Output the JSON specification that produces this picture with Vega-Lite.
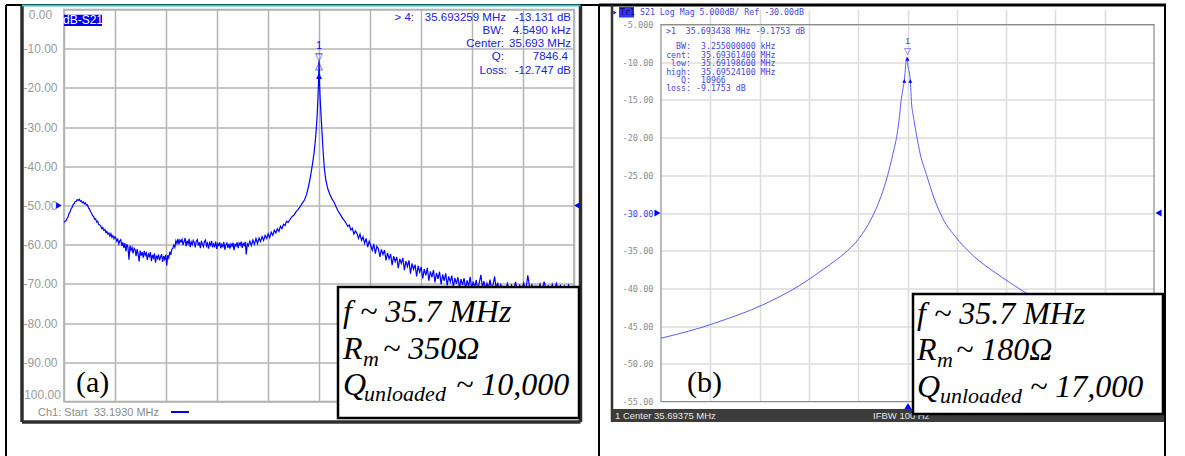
{
"$schema": "https://vega.github.io/schema/vega-lite/v6.json",
"background": "white",
"padding": {"left": 4, "top": 1.5, "right": 0, "bottom": 0},
"bounds": "flush",
"spacing": 87,
"config": {"font": "Liberation Sans"},
"hconcat": [
{
 "width": 510, "height": 392,
 "view": {"stroke": "#a8a8a8", "strokeWidth": 1.5},
 "encoding": {
  "x": {"field": "x", "type": "quantitative", "scale": {"domain": [33.193, 38.193], "nice": false, "zero": false},
   "axis": {"values": [33.193, 33.693, 34.193, 34.693, 35.193, 35.693, 36.193, 36.693, 37.193, 37.693, 38.193], "grid": true, "gridColor": "#b4b4b4", "gridWidth": 1.5, "labels": false, "ticks": false, "domain": false, "title": null}},
  "y": {"field": "y", "type": "quantitative", "scale": {"domain": [-100, 0], "nice": false, "zero": false},
   "axis": {"values": [0, -10, -20, -30, -40, -50, -60, -70, -80, -90, -100], "grid": true, "gridColor": "#b4b4b4", "gridWidth": 1.5, "ticks": false, "tickSize": 0, "domain": false, "title": null, "labelFont": "Liberation Sans", "labelFontSize": 12, "labelColor": "#9a9a9a", "labelAlign": "center", "labelPadding": 24, "labelFlush": true, "labelExpr": "datum.value == 0 ? '0.00' : '-' + format(abs(datum.value), '.2f')"}}
 },
 "layer": [
  {"data": {"values": [
    {"x": 32.7812, "x2": 32.7812, "y": 1.148, "y2": -105.23},
    {"x": 38.2567, "x2": 38.2567, "y": 1.148, "y2": -105.23},
    {"x": 32.7812, "x2": 38.2567, "y": -105.23, "y2": -105.23}
   ]},
   "mark": {"type": "rule", "color": "#2e2e2e", "strokeWidth": 3.5},
   "encoding": {"x2": {"field": "x2"}, "y2": {"field": "y2"}}},
  {"data": {"values": [
    {"x": 32.6244, "x2": 32.6244, "y": 1.148, "y2": -120},
    {"x": 32.6244, "x2": 38.4381, "y": 1.148, "y2": 1.148}
   ]},
   "mark": {"type": "rule", "color": "#000000", "strokeWidth": 2},
   "encoding": {"x2": {"field": "x2"}, "y2": {"field": "y2"}}},
  {"data": {"values": [
    {"x": 32.7812, "x2": 38.2567, "y": 1.02, "y2": 1.02}
   ]},
   "mark": {"type": "rule", "color": "#2ec4c4", "strokeWidth": 2},
   "encoding": {"x2": {"field": "x2"}, "y2": {"field": "y2"}}},
  {"data": {"values": [
    {"x": 33.193, "y": -54.3}, {"x": 33.203, "y": -54.0}, {"x": 33.213, "y": -53.9}, {"x": 33.223, "y": -53.3}, {"x": 33.233, "y": -52.9},
    {"x": 33.243, "y": -52.0}, {"x": 33.253, "y": -51.6}, {"x": 33.263, "y": -50.8}, {"x": 33.273, "y": -50.5}, {"x": 33.283, "y": -49.7},
    {"x": 33.293, "y": -49.5}, {"x": 33.303, "y": -49.0}, {"x": 33.313, "y": -48.9}, {"x": 33.323, "y": -48.5}, {"x": 33.333, "y": -48.7},
    {"x": 33.343, "y": -48.4}, {"x": 33.353, "y": -48.9}, {"x": 33.363, "y": -48.8}, {"x": 33.373, "y": -49.3}, {"x": 33.383, "y": -49.1},
    {"x": 33.393, "y": -49.6}, {"x": 33.403, "y": -49.3}, {"x": 33.413, "y": -49.9}, {"x": 33.423, "y": -49.8}, {"x": 33.433, "y": -50.6},
    {"x": 33.443, "y": -50.9}, {"x": 33.453, "y": -51.6}, {"x": 33.463, "y": -51.9}, {"x": 33.473, "y": -52.6}, {"x": 33.483, "y": -52.8},
    {"x": 33.493, "y": -53.5}, {"x": 33.503, "y": -53.4}, {"x": 33.513, "y": -54.2}, {"x": 33.523, "y": -54.0}, {"x": 33.533, "y": -54.8},
    {"x": 33.543, "y": -55.0}, {"x": 33.553, "y": -55.2}, {"x": 33.563, "y": -55.9}, {"x": 33.573, "y": -55.6}, {"x": 33.583, "y": -56.3},
    {"x": 33.593, "y": -56.1}, {"x": 33.603, "y": -56.9}, {"x": 33.613, "y": -56.6}, {"x": 33.623, "y": -57.3}, {"x": 33.633, "y": -57.0},
    {"x": 33.643, "y": -57.8}, {"x": 33.653, "y": -57.2}, {"x": 33.663, "y": -58.1}, {"x": 33.673, "y": -57.7}, {"x": 33.683, "y": -58.5},
    {"x": 33.693, "y": -58.0},
    {"x": 33.70, "y": -58.2}, {"x": 33.71, "y": -59.1}, {"x": 33.72, "y": -58.6}, {"x": 33.73, "y": -59.8}, {"x": 33.74, "y": -59.0},
    {"x": 33.75, "y": -58.7}, {"x": 33.76, "y": -60.3}, {"x": 33.77, "y": -59.4}, {"x": 33.78, "y": -60.8}, {"x": 33.79, "y": -59.6},
    {"x": 33.80, "y": -61.7}, {"x": 33.81, "y": -59.9}, {"x": 33.82, "y": -60.6}, {"x": 33.83, "y": -63.8}, {"x": 33.84, "y": -60.2},
    {"x": 33.85, "y": -61.4}, {"x": 33.86, "y": -60.7}, {"x": 33.87, "y": -62.2}, {"x": 33.88, "y": -60.9}, {"x": 33.89, "y": -61.3},
    {"x": 33.90, "y": -62.9}, {"x": 33.91, "y": -61.1}, {"x": 33.92, "y": -62.4}, {"x": 33.93, "y": -64.3}, {"x": 33.94, "y": -61.5},
    {"x": 33.95, "y": -62.8}, {"x": 33.96, "y": -61.9}, {"x": 33.97, "y": -63.3}, {"x": 33.98, "y": -61.6}, {"x": 33.99, "y": -62.7},
    {"x": 34.00, "y": -62.1}, {"x": 34.01, "y": -63.9}, {"x": 34.02, "y": -62.4}, {"x": 34.03, "y": -63.0}, {"x": 34.04, "y": -61.9},
    {"x": 34.05, "y": -64.2}, {"x": 34.06, "y": -62.6}, {"x": 34.07, "y": -63.4}, {"x": 34.08, "y": -62.2}, {"x": 34.09, "y": -64.6},
    {"x": 34.10, "y": -62.8}, {"x": 34.11, "y": -63.5}, {"x": 34.12, "y": -62.5}, {"x": 34.13, "y": -64.0}, {"x": 34.14, "y": -63.1},
    {"x": 34.15, "y": -62.4}, {"x": 34.16, "y": -64.4}, {"x": 34.17, "y": -62.9}, {"x": 34.18, "y": -63.7}, {"x": 34.19, "y": -62.6},
    {"x": 34.20, "y": -65.3}, {"x": 34.21, "y": -62.7}, {"x": 34.22, "y": -63.4}, {"x": 34.23, "y": -61.8}, {"x": 34.24, "y": -62.6},
    {"x": 34.25, "y": -61.2}, {"x": 34.26, "y": -60.9}, {"x": 34.27, "y": -60.1}, {"x": 34.28, "y": -60.7}, {"x": 34.29, "y": -59.0},
    {"x": 34.30, "y": -59.7}, {"x": 34.31, "y": -58.5}, {"x": 34.32, "y": -59.9}, {"x": 34.33, "y": -58.8}, {"x": 34.34, "y": -59.3},
    {"x": 34.35, "y": -58.6}, {"x": 34.36, "y": -60.1}, {"x": 34.37, "y": -59.2}, {"x": 34.38, "y": -58.3}, {"x": 34.39, "y": -60.4},
    {"x": 34.40, "y": -59.0}, {"x": 34.41, "y": -59.8}, {"x": 34.42, "y": -58.5}, {"x": 34.43, "y": -60.6}, {"x": 34.44, "y": -59.3},
    {"x": 34.45, "y": -60.0}, {"x": 34.46, "y": -58.9}, {"x": 34.47, "y": -59.5}, {"x": 34.48, "y": -60.7}, {"x": 34.49, "y": -59.1},
    {"x": 34.50, "y": -58.7}, {"x": 34.51, "y": -60.2}, {"x": 34.52, "y": -59.4}, {"x": 34.53, "y": -60.9}, {"x": 34.54, "y": -59.0},
    {"x": 34.55, "y": -59.9}, {"x": 34.56, "y": -60.5}, {"x": 34.57, "y": -59.2}, {"x": 34.58, "y": -58.8}, {"x": 34.59, "y": -60.3},
    {"x": 34.60, "y": -59.6}, {"x": 34.61, "y": -61.0}, {"x": 34.62, "y": -59.5}, {"x": 34.63, "y": -60.1}, {"x": 34.64, "y": -59.0},
    {"x": 34.65, "y": -60.7}, {"x": 34.66, "y": -59.8}, {"x": 34.67, "y": -60.4}, {"x": 34.68, "y": -59.2}, {"x": 34.69, "y": -61.1},
    {"x": 34.70, "y": -59.7}, {"x": 34.71, "y": -60.2}, {"x": 34.72, "y": -59.4}, {"x": 34.73, "y": -60.9}, {"x": 34.74, "y": -59.9},
    {"x": 34.75, "y": -60.5}, {"x": 34.76, "y": -59.3}, {"x": 34.77, "y": -61.3}, {"x": 34.78, "y": -60.0}, {"x": 34.79, "y": -59.6},
    {"x": 34.80, "y": -60.8}, {"x": 34.81, "y": -59.7}, {"x": 34.82, "y": -61.0}, {"x": 34.83, "y": -59.8}, {"x": 34.84, "y": -60.4},
    {"x": 34.85, "y": -59.5}, {"x": 34.86, "y": -61.4}, {"x": 34.87, "y": -59.9}, {"x": 34.88, "y": -60.3}, {"x": 34.89, "y": -59.4},
    {"x": 34.90, "y": -60.9}, {"x": 34.91, "y": -59.6}, {"x": 34.92, "y": -60.1}, {"x": 34.93, "y": -59.2}, {"x": 34.94, "y": -60.8},
    {"x": 34.95, "y": -59.7}, {"x": 34.96, "y": -60.2}, {"x": 34.97, "y": -59.3}, {"x": 34.98, "y": -62.5}, {"x": 34.99, "y": -59.8},
    {"x": 35.00, "y": -60.3},
    {"x": 35.015, "y": -59.1}, {"x": 35.03, "y": -60.2}, {"x": 35.045, "y": -58.8}, {"x": 35.06, "y": -59.9}, {"x": 35.075, "y": -58.4},
    {"x": 35.09, "y": -59.7}, {"x": 35.105, "y": -58.3}, {"x": 35.12, "y": -59.2}, {"x": 35.135, "y": -57.9}, {"x": 35.15, "y": -58.9},
    {"x": 35.165, "y": -57.6}, {"x": 35.18, "y": -58.4}, {"x": 35.195, "y": -57.2}, {"x": 35.21, "y": -58.2}, {"x": 35.225, "y": -56.8},
    {"x": 35.24, "y": -57.6}, {"x": 35.255, "y": -56.3}, {"x": 35.27, "y": -57.0}, {"x": 35.285, "y": -55.9}, {"x": 35.30, "y": -56.6},
    {"x": 35.315, "y": -55.3}, {"x": 35.33, "y": -55.9}, {"x": 35.345, "y": -54.8}, {"x": 35.36, "y": -55.1}, {"x": 35.375, "y": -54.0},
    {"x": 35.39, "y": -54.3}, {"x": 35.41, "y": -53.5}, {"x": 35.43, "y": -52.8}, {"x": 35.45, "y": -52.4}, {"x": 35.47, "y": -51.5},
    {"x": 35.49, "y": -51.0}, {"x": 35.51, "y": -50.2}, {"x": 35.53, "y": -49.4}, {"x": 35.55, "y": -48.6}, {"x": 35.57, "y": -47.3},
    {"x": 35.59, "y": -45.2}, {"x": 35.61, "y": -42.5}, {"x": 35.63, "y": -39.3}, {"x": 35.645, "y": -36.5}, {"x": 35.655, "y": -34.0},
    {"x": 35.665, "y": -31.0}, {"x": 35.675, "y": -27.0}, {"x": 35.683, "y": -22.5}, {"x": 35.689, "y": -18.0}, {"x": 35.692, "y": -15.0},
    {"x": 35.6933, "y": -13.1}, {"x": 35.695, "y": -15.0}, {"x": 35.698, "y": -18.5}, {"x": 35.704, "y": -22.5}, {"x": 35.712, "y": -26.5},
    {"x": 35.722, "y": -31.0}, {"x": 35.733, "y": -36.0}, {"x": 35.745, "y": -40.5}, {"x": 35.76, "y": -43.5}, {"x": 35.78, "y": -45.8},
    {"x": 35.80, "y": -47.2}, {"x": 35.82, "y": -48.3}, {"x": 35.84, "y": -49.1}, {"x": 35.86, "y": -50.3}, {"x": 35.88, "y": -51.4},
    {"x": 35.90, "y": -52.2}, {"x": 35.92, "y": -53.1}, {"x": 35.94, "y": -53.8},
    {"x": 35.96, "y": -54.6}, {"x": 35.975, "y": -55.3}, {"x": 35.99, "y": -55.0}, {"x": 36.005, "y": -56.2}, {"x": 36.02, "y": -55.8},
    {"x": 36.035, "y": -57.3}, {"x": 36.05, "y": -56.5}, {"x": 36.065, "y": -57.1}, {"x": 36.08, "y": -58.4}, {"x": 36.095, "y": -57.3},
    {"x": 36.11, "y": -58.9}, {"x": 36.125, "y": -58.0}, {"x": 36.14, "y": -59.7}, {"x": 36.155, "y": -58.4}, {"x": 36.17, "y": -60.6},
    {"x": 36.185, "y": -59.1}, {"x": 36.20, "y": -60.2}, {"x": 36.215, "y": -61.4}, {"x": 36.23, "y": -59.8}, {"x": 36.245, "y": -62.3},
    {"x": 36.26, "y": -60.4}, {"x": 36.275, "y": -61.0}, {"x": 36.29, "y": -63.1}, {"x": 36.305, "y": -61.2}, {"x": 36.32, "y": -62.5},
    {"x": 36.335, "y": -61.4}, {"x": 36.35, "y": -64.0}, {"x": 36.365, "y": -62.1}, {"x": 36.38, "y": -63.6}, {"x": 36.395, "y": -62.4},
    {"x": 36.41, "y": -65.2}, {"x": 36.425, "y": -62.9}, {"x": 36.44, "y": -64.3}, {"x": 36.455, "y": -63.1}, {"x": 36.47, "y": -66.0},
    {"x": 36.485, "y": -63.6}, {"x": 36.50, "y": -64.8}, {"x": 36.515, "y": -63.4}, {"x": 36.53, "y": -66.5}, {"x": 36.545, "y": -64.2},
    {"x": 36.56, "y": -65.6}, {"x": 36.575, "y": -64.0}, {"x": 36.59, "y": -67.4}, {"x": 36.605, "y": -64.8}, {"x": 36.62, "y": -66.3},
    {"x": 36.635, "y": -65.1}, {"x": 36.65, "y": -68.1}, {"x": 36.665, "y": -65.4}, {"x": 36.68, "y": -67.0}, {"x": 36.695, "y": -65.7},
    {"x": 36.71, "y": -68.6}, {"x": 36.725, "y": -66.2}, {"x": 36.74, "y": -67.8}, {"x": 36.755, "y": -65.9}, {"x": 36.77, "y": -69.2},
    {"x": 36.785, "y": -66.8}, {"x": 36.80, "y": -68.3}, {"x": 36.815, "y": -66.5}, {"x": 36.83, "y": -69.6}, {"x": 36.845, "y": -67.2},
    {"x": 36.86, "y": -68.7}, {"x": 36.875, "y": -66.9}, {"x": 36.89, "y": -70.1}, {"x": 36.905, "y": -67.6}, {"x": 36.92, "y": -69.2},
    {"x": 36.935, "y": -67.3}, {"x": 36.95, "y": -70.4}, {"x": 36.965, "y": -68.1}, {"x": 36.98, "y": -69.5}, {"x": 36.995, "y": -67.9},
    {"x": 37.01, "y": -70.7}, {"x": 37.025, "y": -68.5}, {"x": 37.04, "y": -70.0}, {"x": 37.055, "y": -68.3}, {"x": 37.07, "y": -71.0},
    {"x": 37.085, "y": -68.8}, {"x": 37.10, "y": -70.3}, {"x": 37.115, "y": -68.5}, {"x": 37.13, "y": -71.2}, {"x": 37.145, "y": -69.1},
    {"x": 37.16, "y": -70.6}, {"x": 37.175, "y": -68.2}, {"x": 37.19, "y": -71.3}, {"x": 37.205, "y": -69.4}, {"x": 37.22, "y": -70.8},
    {"x": 37.235, "y": -69.0}, {"x": 37.25, "y": -71.5}, {"x": 37.265, "y": -69.6}, {"x": 37.28, "y": -67.7}, {"x": 37.295, "y": -70.9},
    {"x": 37.31, "y": -69.3}, {"x": 37.325, "y": -71.4}, {"x": 37.34, "y": -69.8}, {"x": 37.355, "y": -71.0}, {"x": 37.37, "y": -68.9},
    {"x": 37.385, "y": -71.6}, {"x": 37.40, "y": -70.1}, {"x": 37.415, "y": -68.1}, {"x": 37.43, "y": -71.3}, {"x": 37.445, "y": -69.7},
    {"x": 37.46, "y": -71.7}, {"x": 37.475, "y": -70.2}, {"x": 37.49, "y": -71.1},
    {"x": 37.52, "y": -71.8}, {"x": 37.54, "y": -69.9}, {"x": 37.56, "y": -72.0}, {"x": 37.58, "y": -70.3}, {"x": 37.60, "y": -71.6},
    {"x": 37.62, "y": -69.5}, {"x": 37.64, "y": -72.2}, {"x": 37.66, "y": -70.4}, {"x": 37.68, "y": -71.5}, {"x": 37.70, "y": -69.8},
    {"x": 37.72, "y": -71.9}, {"x": 37.74, "y": -67.8}, {"x": 37.76, "y": -71.3}, {"x": 37.78, "y": -70.2}, {"x": 37.80, "y": -72.0},
    {"x": 37.82, "y": -70.6}, {"x": 37.84, "y": -71.7}, {"x": 37.86, "y": -70.0}, {"x": 37.88, "y": -72.1}, {"x": 37.90, "y": -69.4},
    {"x": 37.92, "y": -71.4}, {"x": 37.94, "y": -70.5}, {"x": 37.96, "y": -72.3}, {"x": 37.98, "y": -70.1}, {"x": 38.00, "y": -71.8},
    {"x": 38.02, "y": -69.9}, {"x": 38.04, "y": -71.6}, {"x": 38.06, "y": -70.4}, {"x": 38.08, "y": -71.9}, {"x": 38.10, "y": -70.6},
    {"x": 38.12, "y": -72.0}, {"x": 38.14, "y": -70.3}, {"x": 38.16, "y": -71.7}, {"x": 38.18, "y": -70.8}, {"x": 38.193, "y": -71.2}
   ]},
   "mark": {"type": "line", "color": "#0000ff", "strokeWidth": 1.2}},
  {"data": {"values": [
    {"x": 35.6933, "y": -9.4, "t": "1"},
    {"x": 35.6933, "y": -12.1, "t": "▽"},
    {"x": 35.6933, "y": -14.3, "t": "△"},
    {"x": 35.6933, "y": -17.0, "t": "▲"}
   ]},
   "mark": {"type": "text", "color": "#0000ff", "fontSize": 10, "align": "center", "baseline": "middle"},
   "encoding": {"text": {"field": "t"}}},
  {"data": {"values": [{"x": 33.144, "y": -50}]},
   "mark": {"type": "point", "shape": "triangle-right", "filled": true, "color": "#0000ff", "size": 45, "opacity": 1}},
  {"data": {"values": [{"x": 38.2224, "y": -50}]},
   "mark": {"type": "point", "shape": "triangle-left", "filled": true, "color": "#0000ff", "size": 45, "opacity": 1}},
  {"data": {"values": [
    {"x": 36.6243, "y": -2.09, "t": "> 4:"},
    {"x": 37.5263, "y": -2.09, "t": "35.693259 MHz"},
    {"x": 38.1636, "y": -2.09, "t": "-13.131 dB"},
    {"x": 37.5067, "y": -5.56, "t": "BW:"},
    {"x": 38.1636, "y": -5.56, "t": "4.5490 kHz"},
    {"x": 37.5067, "y": -8.88, "t": "Center:"},
    {"x": 38.1636, "y": -8.88, "t": "35.693 MHz"},
    {"x": 37.5067, "y": -12.12, "t": "Q:"},
    {"x": 38.1342, "y": -12.12, "t": "7846.4"},
    {"x": 37.5361, "y": -15.69, "t": "Loss:"},
    {"x": 38.1636, "y": -15.69, "t": "-12.747 dB"}
   ]},
   "mark": {"type": "text", "color": "#2020e0", "fontSize": 11.5, "align": "right", "baseline": "middle", "font": "Liberation Sans"},
   "encoding": {"text": {"field": "t"}}},
  {"data": {"values": [{"x": 33.193, "x2": 33.5655, "y": -1.33, "y2": -4.21}]},
   "mark": {"type": "rect", "color": "#0000ee"},
   "encoding": {"x2": {"field": "x2"}, "y2": {"field": "y2"}}},
  {"data": {"values": [{"x": 33.3793, "y": -2.76, "t": "dB-S21"}]},
   "mark": {"type": "text", "color": "#ffffff", "fontSize": 12, "align": "center", "baseline": "middle"},
   "encoding": {"text": {"field": "t"}}},
  {"data": {"values": [{"x": 32.9381, "y": -102.93, "t": "Ch1: Start\u00a0\u00a033.1930 MHz"}]},
   "mark": {"type": "text", "color": "#8c8c8c", "fontSize": 11, "align": "left", "baseline": "middle"},
   "encoding": {"text": {"field": "t"}}},
  {"data": {"values": [{"x": 34.242, "x2": 34.4185, "y": -102.68, "y2": -102.68}]},
   "mark": {"type": "rule", "color": "#0000ff", "strokeWidth": 2},
   "encoding": {"x2": {"field": "x2"}, "y2": {"field": "y2"}}},
  {"data": {"values": [{"x": 33.3106, "y": -97.58, "t": "(a)"}]},
   "mark": {"type": "text", "color": "#000000", "font": "Liberation Serif", "fontSize": 30, "align": "left", "baseline": "alphabetic"},
   "encoding": {"text": {"field": "t"}}},
  {"data": {"values": [{"x": 35.8793, "x2": 38.242, "y": -70.79, "y2": -104.21}]},
   "mark": {"type": "rect", "fill": "#ffffff", "stroke": "#000000", "strokeWidth": 2.5},
   "encoding": {"x2": {"field": "x2"}, "y2": {"field": "y2"}}},
  {"data": {"values": [
    {"x": 35.9283, "y": -79.72, "t": "f ~ 35.7 MHz"},
    {"x": 35.9283, "y": -89.16, "t": "R"},
    {"x": 36.3205, "y": -89.16, "t": "~ 350Ω"},
    {"x": 35.9283, "y": -98.34, "t": "Q"},
    {"x": 37.0362, "y": -98.34, "t": "~ 10,000"}
   ]},
   "mark": {"type": "text", "color": "#000000", "font": "Liberation Serif", "fontStyle": "italic", "fontSize": 32, "align": "left", "baseline": "alphabetic"},
   "encoding": {"text": {"field": "t"}}},
  {"data": {"values": [
    {"x": 36.1244, "y": -90.94, "t": "m"},
    {"x": 36.1342, "y": -99.87, "t": "unloaded"}
   ]},
   "mark": {"type": "text", "color": "#000000", "font": "Liberation Serif", "fontStyle": "italic", "fontSize": 22, "align": "left", "baseline": "alphabetic"},
   "encoding": {"text": {"field": "t"}}}
 ]
},
{
 "width": 493, "height": 392,
 "view": {"stroke": null},
 "encoding": {
  "x": {"field": "x", "type": "quantitative", "scale": {"domain": [35.59375, 35.79375], "nice": false, "zero": false},
   "axis": {"values": [35.61375, 35.63375, 35.65375, 35.67375, 35.69375, 35.71375, 35.73375, 35.75375, 35.77375], "grid": true, "gridColor": "#dcdcdc", "gridWidth": 1.5, "labels": false, "ticks": false, "domain": false, "title": null}},
  "y": {"field": "y", "type": "quantitative", "scale": {"domain": [-55, -3], "nice": false, "zero": false},
   "axis": {"values": [-5, -10, -15, -20, -25, -30, -35, -40, -45, -50, -55], "grid": true, "gridColor": "#dcdcdc", "gridWidth": 1.5, "ticks": false, "tickSize": 0, "domain": false, "title": null, "labelFont": "DejaVu Sans Mono", "labelFontSize": 8.6, "labelColor": {"condition": {"test": "datum.value == -30", "value": "#3c3cff"}, "value": "#8c8c8c"}, "labelAlign": "right", "labelPadding": 8, "labelFlush": false, "labelExpr": "datum.value == -5 ? '-5.000' : '-' + format(abs(datum.value), '.2f')"}}
 },
 "layer": [
  {"data": {"values": [
    {"x": 35.568598, "x2": 35.568598, "y": -2.403, "y2": -70},
    {"x": 35.798212, "x2": 35.798212, "y": -2.403, "y2": -70}
   ]},
   "mark": {"type": "rule", "color": "#000000", "strokeWidth": 2},
   "encoding": {"x2": {"field": "x2"}, "y2": {"field": "y2"}}},
  {"data": {"values": [
    {"x": 35.568598, "x2": 35.798618, "y": -2.403, "y2": -2.403}
   ]},
   "mark": {"type": "rule", "color": "#000000", "strokeWidth": 3},
   "encoding": {"x2": {"field": "x2"}, "y2": {"field": "y2"}}},
  {"data": {"values": [
    {"x": 35.573872, "x2": 35.573872, "y": -2.403, "y2": -57.72}
   ]},
   "mark": {"type": "rule", "color": "#333333", "strokeWidth": 2.5},
   "encoding": {"x2": {"field": "x2"}, "y2": {"field": "y2"}}},
  {"data": {"values": [{"x": 35.573872, "x2": 35.797807, "y": -55.99, "y2": -57.72}]},
   "mark": {"type": "rect", "color": "#3c3c3c"},
   "encoding": {"x2": {"field": "x2"}, "y2": {"field": "y2"}}},
  {"data": {"values": [
    {"x": 35.575089, "y": -56.93, "t": "1 Center 35.69375 MHz"},
    {"x": 35.679754, "y": -56.93, "t": "IFBW 100 Hz"}
   ]},
   "mark": {"type": "text", "color": "#e6e6e6", "fontSize": 9.5, "align": "left", "baseline": "middle"},
   "encoding": {"text": {"field": "t"}}},
  {"data": {"values": [{"x": 35.59375, "x2": 35.79375, "y": -5, "y2": -55}]},
   "mark": {"type": "rect", "fill": null, "fillOpacity": 0, "stroke": "#8c8c8c", "strokeWidth": 1.2},
   "encoding": {"x2": {"field": "x2"}, "y2": {"field": "y2"}}},
  {"data": {"values": [
    {"x": 35.59375, "y": -46.6}, {"x": 35.6, "y": -46.1}, {"x": 35.61, "y": -45.2}, {"x": 35.62, "y": -44.1}, {"x": 35.63, "y": -42.9},
    {"x": 35.64, "y": -41.4}, {"x": 35.65, "y": -39.6}, {"x": 35.656, "y": -38.3}, {"x": 35.662, "y": -36.9}, {"x": 35.668, "y": -35.4},
    {"x": 35.674, "y": -33.4}, {"x": 35.679, "y": -30.8}, {"x": 35.683, "y": -27.8}, {"x": 35.6857, "y": -25.0}, {"x": 35.6878, "y": -22.2},
    {"x": 35.6895, "y": -19.6}, {"x": 35.6905, "y": -17.2}, {"x": 35.6911, "y": -15.2}, {"x": 35.6918, "y": -13.7}, {"x": 35.69245, "y": -12.4},
    {"x": 35.693, "y": -10.5}, {"x": 35.6934, "y": -9.3}, {"x": 35.694, "y": -10.6}, {"x": 35.69489, "y": -12.4}, {"x": 35.69535, "y": -15.2},
    {"x": 35.6963, "y": -17.5}, {"x": 35.69738, "y": -19.6}, {"x": 35.699, "y": -22.3}, {"x": 35.70144, "y": -24.9}, {"x": 35.7045, "y": -28.0},
    {"x": 35.70806, "y": -30.7}, {"x": 35.71361, "y": -33.3}, {"x": 35.718, "y": -34.9}, {"x": 35.72307, "y": -36.4}, {"x": 35.728, "y": -37.6},
    {"x": 35.7324, "y": -38.6}, {"x": 35.737, "y": -39.6}, {"x": 35.74182, "y": -40.6}, {"x": 35.75, "y": -41.9}, {"x": 35.76, "y": -43.2},
    {"x": 35.77, "y": -44.3}, {"x": 35.78, "y": -45.3}, {"x": 35.79375, "y": -46.4}
   ]},
   "mark": {"type": "line", "color": "#5a5aff", "strokeWidth": 1, "interpolate": "monotone"}},
  {"data": {"values": [
    {"x": 35.69375, "y": -7.15, "t": "1"},
    {"x": 35.69375, "y": -8.45, "t": "▽"}
   ]},
   "mark": {"type": "text", "color": "#4040ff", "fontSize": 8.5, "align": "center", "baseline": "middle"},
   "encoding": {"text": {"field": "t"}}},
  {"data": {"values": [
    {"x": 35.69375, "y": -9.566},
    {"x": 35.692453, "y": -12.485},
    {"x": 35.694887, "y": -12.485}
   ]},
   "mark": {"type": "point", "shape": "triangle-up", "filled": true, "color": "#0000ff", "size": 16, "opacity": 1}},
  {"data": {"values": [{"x": 35.59233, "y": -30}]},
   "mark": {"type": "point", "shape": "triangle-right", "filled": true, "color": "#0000ff", "size": 50, "opacity": 1}},
  {"data": {"values": [{"x": 35.795576, "y": -30}]},
   "mark": {"type": "point", "shape": "triangle-left", "filled": true, "color": "#0000ff", "size": 50, "opacity": 1}},
  {"data": {"values": [{"x": 35.693953, "y": -55.6}]},
   "mark": {"type": "point", "shape": "triangle-up", "filled": true, "color": "#0000ff", "size": 50, "opacity": 1}},
  {"data": {"values": [{"x": 35.575089, "y": -3.4}]},
   "mark": {"type": "point", "shape": "triangle-right", "filled": true, "color": "#1818a0", "size": 14, "opacity": 1}},
  {"data": {"values": [{"x": 35.576711, "x2": 35.582797, "y": -2.668, "y2": -4.061}]},
   "mark": {"type": "rect", "color": "#3333ff"},
   "encoding": {"x2": {"field": "x2"}, "y2": {"field": "y2"}}},
  {"data": {"values": [{"x": 35.577117, "y": -3.42, "t": "Tr1"}]},
   "mark": {"type": "text", "color": "#101060", "font": "DejaVu Sans Mono", "fontSize": 8.25, "align": "left", "baseline": "middle"},
   "encoding": {"text": {"field": "t"}}},
  {"data": {"values": [
    {"x": 35.585231, "y": -3.42, "t": "S21 Log Mag 5.000dB/ Ref -30.00dB"},
    {"x": 35.595778, "y": -5.985, "t": ">1\u00a0\u00a035.693438\u00a0MHz\u00a0-9.1753\u00a0dB"},
    {"x": 35.609977, "y": -7.974, "t": "3.255000000 kHz"},
    {"x": 35.609977, "y": -9.208, "t": "35.69361400 MHz"},
    {"x": 35.609977, "y": -10.269, "t": "35.69198600 MHz"},
    {"x": 35.609977, "y": -11.384, "t": "35.69524100 MHz"},
    {"x": 35.609977, "y": -12.485, "t": "10966"},
    {"x": 35.607949, "y": -13.586, "t": "-9.1753 dB"}
   ]},
   "mark": {"type": "text", "color": "#4646e6", "font": "DejaVu Sans Mono", "fontSize": 8.25, "align": "left", "baseline": "middle"},
   "encoding": {"text": {"field": "t"}}},
  {"data": {"values": [
    {"x": 35.60592, "y": -7.974, "t": "BW:"},
    {"x": 35.60592, "y": -9.208, "t": "cent:"},
    {"x": 35.60592, "y": -10.269, "t": "low:"},
    {"x": 35.60592, "y": -11.384, "t": "high:"},
    {"x": 35.60592, "y": -12.485, "t": "Q:"},
    {"x": 35.60592, "y": -13.586, "t": "loss:"}
   ]},
   "mark": {"type": "text", "color": "#4646e6", "font": "DejaVu Sans Mono", "fontSize": 8.25, "align": "right", "baseline": "middle"},
   "encoding": {"text": {"field": "t"}}},
  {"data": {"values": [{"x": 35.604298, "y": -53.74, "t": "(b)"}]},
   "mark": {"type": "text", "color": "#000000", "font": "Liberation Serif", "fontSize": 30, "align": "left", "baseline": "alphabetic"},
   "encoding": {"text": {"field": "t"}}},
  {"data": {"values": [{"x": 35.695981, "x2": 35.797401, "y": -40.74, "y2": -56.66}]},
   "mark": {"type": "rect", "fill": "#ffffff", "stroke": "#000000", "strokeWidth": 2.5},
   "encoding": {"x2": {"field": "x2"}, "y2": {"field": "y2"}}},
  {"data": {"values": [
    {"x": 35.697604, "y": -44.72, "t": "f ~ 35.7 MHz"},
    {"x": 35.697604, "y": -49.5, "t": "R"},
    {"x": 35.713426, "y": -49.5, "t": "~ 180Ω"},
    {"x": 35.697604, "y": -54.4, "t": "Q"},
    {"x": 35.743446, "y": -54.4, "t": "~ 17,000"}
   ]},
   "mark": {"type": "text", "color": "#000000", "font": "Liberation Serif", "fontStyle": "italic", "fontSize": 32, "align": "left", "baseline": "alphabetic"},
   "encoding": {"text": {"field": "t"}}},
  {"data": {"values": [
    {"x": 35.705718, "y": -50.42, "t": "m"},
    {"x": 35.706935, "y": -55.2, "t": "unloaded"}
   ]},
   "mark": {"type": "text", "color": "#000000", "font": "Liberation Serif", "fontStyle": "italic", "fontSize": 22, "align": "left", "baseline": "alphabetic"},
   "encoding": {"text": {"field": "t"}}}
 ]
}
]
}
